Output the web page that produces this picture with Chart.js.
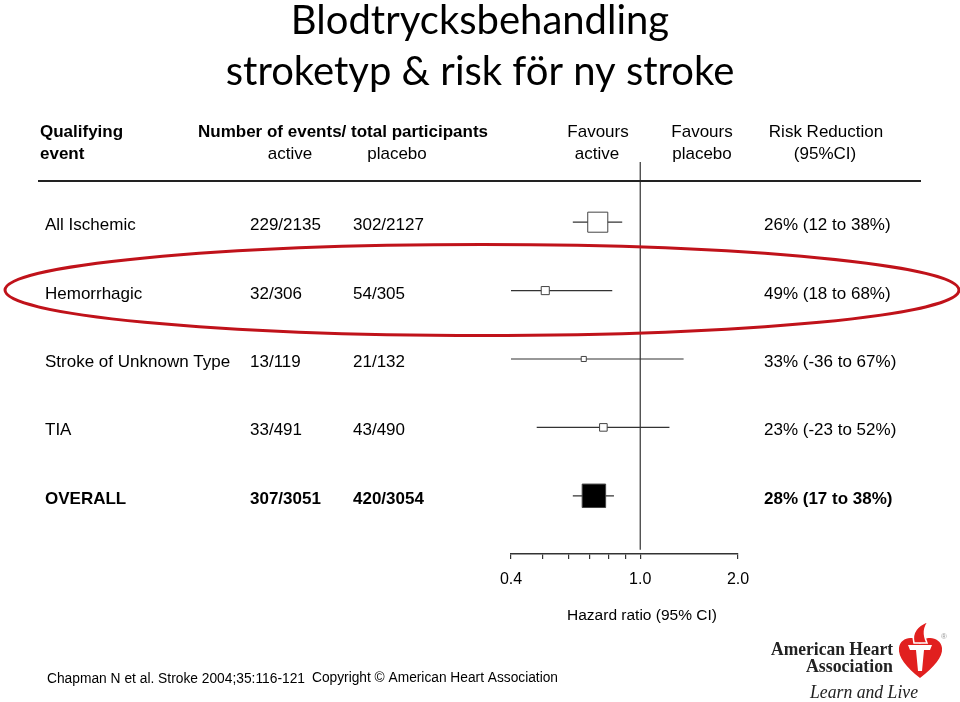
<!DOCTYPE html>
<html>
<head>
<meta charset="utf-8">
<script src="https://cdn.jsdelivr.net/npm/chart.js@4.4.0/dist/chart.umd.min.js"></script>
<style>
  body { margin: 0; background: #fff; }
  canvas { display: block; }
</style>
</head>
<body>
<canvas id="forest" width="960" height="702"></canvas>
<script>
const categories = ["All Ischemic", "Hemorrhagic", "Stroke of Unknown Type", "TIA", "OVERALL"];
const activeEvents = ["229/2135", "32/306", "13/119", "33/491", "307/3051"];
const placeboEvents = ["302/2127", "54/305", "21/132", "43/490", "420/3054"];
const hazardRatio = [0.74, 0.51, 0.67, 0.77, 0.72];
const ciLow = [0.62, 0.32, 0.33, 0.48, 0.62];
const ciHigh = [0.88, 0.82, 1.36, 1.23, 0.83];
const riskReduction = ["26% (12 to 38%)", "49% (18 to 68%)", "33% (-36 to 67%)", "23% (-23 to 52%)", "28% (17 to 38%)"];
const xTicks = [0.4, 0.5, 0.6, 0.7, 0.8, 0.9, 1.0, 2.0];
const xTickLabels = [0.4, 1.0, 2.0];

const canvas = document.getElementById("forest");

// box area follows the number of events in each row
const totalEvents = activeEvents.map((a, i) => parseInt(a) + parseInt(placeboEvents[i]));
const boxSide = totalEvents.map((n) => 0.87 * Math.sqrt(n));
const lastRow = categories.length - 1;

const ciDatasets = categories.map((c, i) => ({
  data: [{ x: ciLow[i], y: i }, { x: ciHigh[i], y: i }],
  showLine: true,
  borderColor: "#333",
  borderWidth: 1.2,
  pointRadius: 0,
  order: 2,
}));

const noEffectLine = {
  data: [{ x: 1, y: -0.88 }, { x: 1, y: 4.79 }],
  showLine: true,
  borderColor: "#333",
  borderWidth: 1.2,
  pointRadius: 0,
  order: 3,
};

const boxes = {
  data: hazardRatio.map((hr, i) => ({ x: hr, y: i })),
  pointStyle: "rect",
  pointRadius: boxSide.map((s) => s / Math.SQRT2),
  backgroundColor: categories.map((c, i) => (i === lastRow ? "#000" : "#fff")),
  borderColor: "#444",
  borderWidth: 1,
  order: 1,
};

function txt(ctx, s, x, y, font, align, maxW) {
  ctx.font = font;
  ctx.textAlign = align || "left";
  if (maxW) ctx.fillText(s, x, y, maxW);
  else ctx.fillText(s, x, y);
}

const decorations = {
  id: "decorations",
  afterDraw(chart) {
    const ctx = chart.ctx;
    const yScale = chart.scales.y;
    const reg = "17px 'Liberation Sans', Arial, sans-serif";
    const bold = "bold 17px 'Liberation Sans', Arial, sans-serif";
    ctx.save();
    ctx.fillStyle = "#000";
    ctx.textBaseline = "alphabetic";

    // title
    txt(ctx, "Blodtrycksbehandling", 480, 34, "40px Lato, 'Open Sans', sans-serif", "center", 384);
    txt(ctx, "stroketyp & risk för ny stroke", 480, 85, "40px Lato, 'Open Sans', sans-serif", "center", 514);

    // column headers
    txt(ctx, "Qualifying", 40, 137, bold, "left", 86);
    txt(ctx, "event", 40, 159, bold);
    txt(ctx, "Number of events/ total participants", 198, 137, bold, "left", 297);
    txt(ctx, "active", 290, 159, reg, "center", 47);
    txt(ctx, "placebo", 397, 159, reg, "center", 62);
    txt(ctx, "Favours", 598, 137, reg, "center", 63);
    txt(ctx, "active", 597, 159, reg, "center", 47);
    txt(ctx, "Favours", 702, 137, reg, "center", 63);
    txt(ctx, "placebo", 702, 159, reg, "center", 62);
    txt(ctx, "Risk Reduction", 826, 137, reg, "center", 118);
    txt(ctx, "(95%CI)", 825, 159, reg, "center", 66);

    ctx.strokeStyle = "#222";
    ctx.lineWidth = 2;
    ctx.beginPath();
    ctx.moveTo(38, 181);
    ctx.lineTo(921, 181);
    ctx.stroke();

    // rows
    categories.forEach((c, i) => {
      const y = yScale.getPixelForValue(i) + 8;
      const f = i === lastRow ? bold : reg;
      txt(ctx, c, 45, y, f);
      txt(ctx, activeEvents[i], 250, y, f);
      txt(ctx, placeboEvents[i], 353, y, f);
      txt(ctx, riskReduction[i], 764, y, f);
    });

    txt(ctx, "Hazard ratio (95% CI)", 642, 620, "15.5px 'Liberation Sans', Arial, sans-serif", "center");

    // highlight ring around the haemorrhagic row
    ctx.strokeStyle = "#c0121a";
    ctx.lineWidth = 3;
    ctx.beginPath();
    ctx.ellipse(482, yScale.getPixelForValue(1) - 0.5, 477, 45.5, 0, 0, Math.PI * 2);
    ctx.stroke();

    // footer
    txt(ctx, "Chapman N et al. Stroke 2004;35:116-121", 47, 683, "14px 'Liberation Sans', Arial, sans-serif", "left", 258);
    txt(ctx, "Copyright © American Heart Association", 312, 682, "14px 'Liberation Sans', Arial, sans-serif", "left", 246);

    // AHA logo
    ctx.fillStyle = "#222";
    txt(ctx, "American Heart", 771, 655, "bold 19px 'Liberation Serif', 'DejaVu Serif', serif", "left", 122);
    txt(ctx, "Association", 806, 672, "bold 19px 'Liberation Serif', 'DejaVu Serif', serif", "left", 87);
    txt(ctx, "Learn and Live", 810, 698, "italic 18px 'Liberation Serif', 'DejaVu Serif', serif", "left", 108);

    ctx.fillStyle = "#e1201f";
    ctx.beginPath();
    ctx.moveTo(920, 678);
    ctx.bezierCurveTo(906, 667, 898, 657, 899, 648);
    ctx.bezierCurveTo(900, 637, 915, 634, 920, 644);
    ctx.bezierCurveTo(925, 634, 941, 637, 942, 648);
    ctx.bezierCurveTo(943, 657, 934, 667, 920, 678);
    ctx.fill();
    // flame
    ctx.beginPath();
    ctx.moveTo(914, 643);
    ctx.quadraticCurveTo(910, 628, 929, 621);
    ctx.quadraticCurveTo(921, 630, 927, 643);
    ctx.closePath();
    ctx.fill();
    ctx.strokeStyle = "#fff";
    ctx.lineWidth = 1.5;
    ctx.stroke();
    // torch
    ctx.fillStyle = "#fff";
    ctx.beginPath();
    ctx.moveTo(908, 645);
    ctx.lineTo(932, 645);
    ctx.lineTo(930, 650);
    ctx.lineTo(924, 650);
    ctx.lineTo(922, 671);
    ctx.lineTo(918, 671);
    ctx.lineTo(916, 650);
    ctx.lineTo(910, 650);
    ctx.closePath();
    ctx.fill();
    ctx.fillStyle = "#999";
    txt(ctx, "®", 944, 639, "8px 'Liberation Sans', Arial, sans-serif", "center");

    ctx.restore();
  },
};

new Chart(canvas, {
  type: "scatter",
  data: { datasets: [boxes, ...ciDatasets, noEffectLine] },
  options: {
    responsive: false,
    animation: false,
    layout: { padding: { left: 511, right: 222, top: 162, bottom: 108 } },
    plugins: { legend: { display: false }, tooltip: { enabled: false } },
    scales: {
      x: {
        type: "logarithmic",
        min: 0.4,
        max: 2.0,
        afterBuildTicks(scale) {
          scale.ticks = xTicks.map((v) => ({ value: v }));
        },
        afterFit(scale) {
          scale.height = 40;
        },
        grid: { drawOnChartArea: false, drawTicks: true, tickLength: 5, color: "#333", lineWidth: 1.2 },
        border: { display: true, color: "#333", width: 1.5 },
        ticks: {
          color: "#000",
          padding: 11,
          maxRotation: 0,
          autoSkip: false,
          font: { family: "'Liberation Sans', Arial, sans-serif", size: 16 },
          callback(value) {
            return xTickLabels.includes(value) ? value.toFixed(1) : "";
          },
        },
      },
      y: {
        display: false,
        reverse: true,
        min: -0.88,
        max: 4.851,
      },
    },
  },
  plugins: [decorations],
});
</script>
</body>
</html>
